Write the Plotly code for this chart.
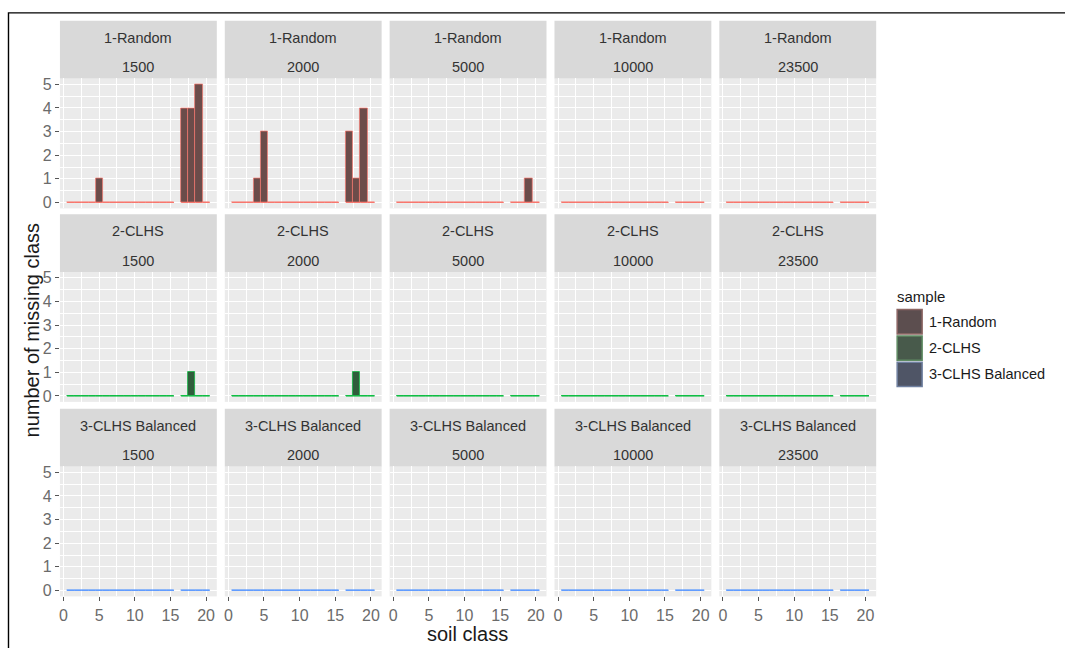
import plotly.graph_objects as go

W, H = 1065, 648

# ---------------- data ----------------
soil_class = [1, 2, 3, 4, 5, 6, 7, 8, 9, 10, 11, 12, 13, 14, 15, 17, 18, 19, 20]
sizes = ["1500", "2000", "5000", "10000", "23500"]
samples = ["1-Random", "2-CLHS", "3-CLHS Balanced"]

random_1500 = [0, 0, 0, 0, 1, 0, 0, 0, 0, 0, 0, 0, 0, 0, 0, 4, 4, 5, 0]
random_2000 = [0, 0, 0, 1, 3, 0, 0, 0, 0, 0, 0, 0, 0, 0, 0, 3, 1, 4, 0]
random_5000 = [0, 0, 0, 0, 0, 0, 0, 0, 0, 0, 0, 0, 0, 0, 0, 0, 0, 1, 0]
random_10000 = [0, 0, 0, 0, 0, 0, 0, 0, 0, 0, 0, 0, 0, 0, 0, 0, 0, 0, 0]
random_23500 = [0, 0, 0, 0, 0, 0, 0, 0, 0, 0, 0, 0, 0, 0, 0, 0, 0, 0, 0]

clhs_1500 = [0, 0, 0, 0, 0, 0, 0, 0, 0, 0, 0, 0, 0, 0, 0, 0, 1, 0, 0]
clhs_2000 = [0, 0, 0, 0, 0, 0, 0, 0, 0, 0, 0, 0, 0, 0, 0, 0, 1, 0, 0]
clhs_5000 = [0, 0, 0, 0, 0, 0, 0, 0, 0, 0, 0, 0, 0, 0, 0, 0, 0, 0, 0]
clhs_10000 = [0, 0, 0, 0, 0, 0, 0, 0, 0, 0, 0, 0, 0, 0, 0, 0, 0, 0, 0]
clhs_23500 = [0, 0, 0, 0, 0, 0, 0, 0, 0, 0, 0, 0, 0, 0, 0, 0, 0, 0, 0]

balanced_1500 = [0, 0, 0, 0, 0, 0, 0, 0, 0, 0, 0, 0, 0, 0, 0, 0, 0, 0, 0]
balanced_2000 = [0, 0, 0, 0, 0, 0, 0, 0, 0, 0, 0, 0, 0, 0, 0, 0, 0, 0, 0]
balanced_5000 = [0, 0, 0, 0, 0, 0, 0, 0, 0, 0, 0, 0, 0, 0, 0, 0, 0, 0, 0]
balanced_10000 = [0, 0, 0, 0, 0, 0, 0, 0, 0, 0, 0, 0, 0, 0, 0, 0, 0, 0, 0]
balanced_23500 = [0, 0, 0, 0, 0, 0, 0, 0, 0, 0, 0, 0, 0, 0, 0, 0, 0, 0, 0]

grid_values = [
    [random_1500, random_2000, random_5000, random_10000, random_23500],
    [clhs_1500, clhs_2000, clhs_5000, clhs_10000, clhs_23500],
    [balanced_1500, balanced_2000, balanced_5000, balanced_10000, balanced_23500],
]

x_ticks = [0, 5, 10, 15, 20]
y_ticks = [0, 1, 2, 3, 4, 5]

# ---------------- styles ----------------
hue = ["#F8766D", "#00BA38", "#619CFF"]
fill = ["#6B4C4A", "#2F5D3B", "#4F5667"]
key_fill = ["#5C4E4F", "#485A4B", "#4F5566"]
key_line = ["#8C6663", "#5E8A62", "#6F80A0"]
FONT = "Liberation Sans, Arial, sans-serif"
TICK_COLOR = "#6B6B6B"


def px(x):
    return x / W


def py(y):
    return 1 - y / H


col_left = [59 + c * 165 for c in range(5)]
col_w = 157
row_top = [77, 272, 468]
row_h = 131
strip_h = 58

fig = go.Figure()
layout = dict(
    width=W, height=H,
    margin=dict(l=0, r=0, t=0, b=0),
    paper_bgcolor="white",
    plot_bgcolor="#EBEBEB",
    showlegend=False,
    font=dict(family=FONT),
)
shapes = []
annotations = []

for r in range(3):
    for c in range(5):
        i = r * 5 + c + 1
        xa = "x" if i == 1 else f"x{i}"
        ya = "y" if i == 1 else f"y{i}"
        vals = grid_values[r][c]

        # baseline (outline of every bar at y = 0)
        bx, by = [], []
        for k in soil_class:
            bx += [k - 0.5, k + 0.5, None]
            by += [0, 0, None]
        fig.add_trace(go.Bar(
            x=soil_class, y=vals, width=1,
            marker=dict(color=fill[r], line=dict(color=hue[r], width=0.7)),
            xaxis=xa, yaxis=ya, hoverinfo="skip",
        ))
        fig.add_trace(go.Scatter(
            x=bx, y=by, mode="lines",
            line=dict(color=hue[r], width=1.2),
            xaxis=xa, yaxis=ya, hoverinfo="skip",
        ))

        x0 = col_left[c]
        top = row_top[r]
        xkey = "xaxis" if i == 1 else f"xaxis{i}"
        ykey = "yaxis" if i == 1 else f"yaxis{i}"
        bottom_row = r == 2
        left_col = c == 0
        layout[xkey] = dict(
            domain=[px(x0), px(x0 + col_w)],
            anchor=ya,
            range=[-0.5, 21.5],
            tickvals=x_ticks,
            showticklabels=bottom_row,
            ticks="outside" if bottom_row else "",
            ticklen=4, tickwidth=1, tickcolor="#555555",
            tickfont=dict(size=16, color=TICK_COLOR, family=FONT),
            showgrid=True, gridcolor="white", gridwidth=1.2,
            minor=dict(tickvals=[2.5, 7.5, 12.5, 17.5], showgrid=True,
                       gridcolor="white", gridwidth=0.6),
            zeroline=False, showline=False, fixedrange=True,
        )
        layout[ykey] = dict(
            domain=[py(top + row_h), py(top)],
            anchor=xa,
            range=[-0.25, 5.25],
            tickvals=y_ticks,
            showticklabels=left_col,
            ticks="outside" if left_col else "",
            ticklen=4, tickwidth=1, tickcolor="#555555",
            tickfont=dict(size=16, color=TICK_COLOR, family=FONT),
            showgrid=True, gridcolor="white", gridwidth=1.2,
            minor=dict(tickvals=[0.5, 1.5, 2.5, 3.5, 4.5], showgrid=True,
                       gridcolor="white", gridwidth=0.6),
            zeroline=False, showline=False, fixedrange=True,
        )

        # strip
        shapes.append(dict(
            type="rect", xref="paper", yref="paper",
            x0=px(x0), x1=px(x0 + col_w), y0=py(top), y1=py(top - strip_h),
            fillcolor="#D9D9D9", line=dict(width=0), layer="below",
        ))
        annotations.append(dict(
            text=samples[r], xref="paper", yref="paper",
            x=px(x0 + col_w / 2), y=py(top - 41), xanchor="center", yanchor="middle",
            showarrow=False, font=dict(size=14.5, color="#333333", family=FONT),
        ))
        annotations.append(dict(
            text=sizes[c], xref="paper", yref="paper",
            x=px(x0 + col_w / 2), y=py(top - 11), xanchor="center", yanchor="middle",
            showarrow=False, font=dict(size=14.5, color="#333333", family=FONT),
        ))

# axis titles
annotations.append(dict(
    text="soil class", xref="paper", yref="paper",
    x=px(467), y=py(637), xanchor="center", yanchor="middle",
    showarrow=False, font=dict(size=20, color="#1A1A1A", family=FONT),
))
annotations.append(dict(
    text="number of missing class", xref="paper", yref="paper",
    x=px(31), y=py(330), xanchor="center", yanchor="middle", textangle=-90,
    showarrow=False, font=dict(size=20, color="#1A1A1A", family=FONT),
))

# legend (drawn manually)
annotations.append(dict(
    text="sample", xref="paper", yref="paper",
    x=px(895), y=py(297), xanchor="left", yanchor="middle",
    showarrow=False, font=dict(size=15, color="#1A1A1A", family=FONT),
))
key_top = 309
key_h = 26.5
for k, name in enumerate(samples):
    t = key_top + k * key_h
    shapes.append(dict(
        type="rect", xref="paper", yref="paper",
        x0=px(897), x1=px(922), y0=py(t + key_h - 1), y1=py(t + 1),
        fillcolor=key_fill[k], line=dict(color=key_line[k], width=1.5),
    ))
    annotations.append(dict(
        text=name, xref="paper", yref="paper",
        x=px(927), y=py(t + key_h / 2), xanchor="left", yanchor="middle",
        showarrow=False, font=dict(size=14.5, color="#1A1A1A", family=FONT),
    ))

# outer frame of the figure image
shapes.append(dict(
    type="rect", xref="paper", yref="paper",
    x0=px(7.5), x1=1.05, y0=-0.05, y1=py(11),
    line=dict(color="black", width=1.4), fillcolor="rgba(0,0,0,0)",
))

layout["shapes"] = shapes
layout["annotations"] = annotations
fig.update_layout(**layout)
fig.update_layout(bargap=0)

fig.write_html("out.html")
